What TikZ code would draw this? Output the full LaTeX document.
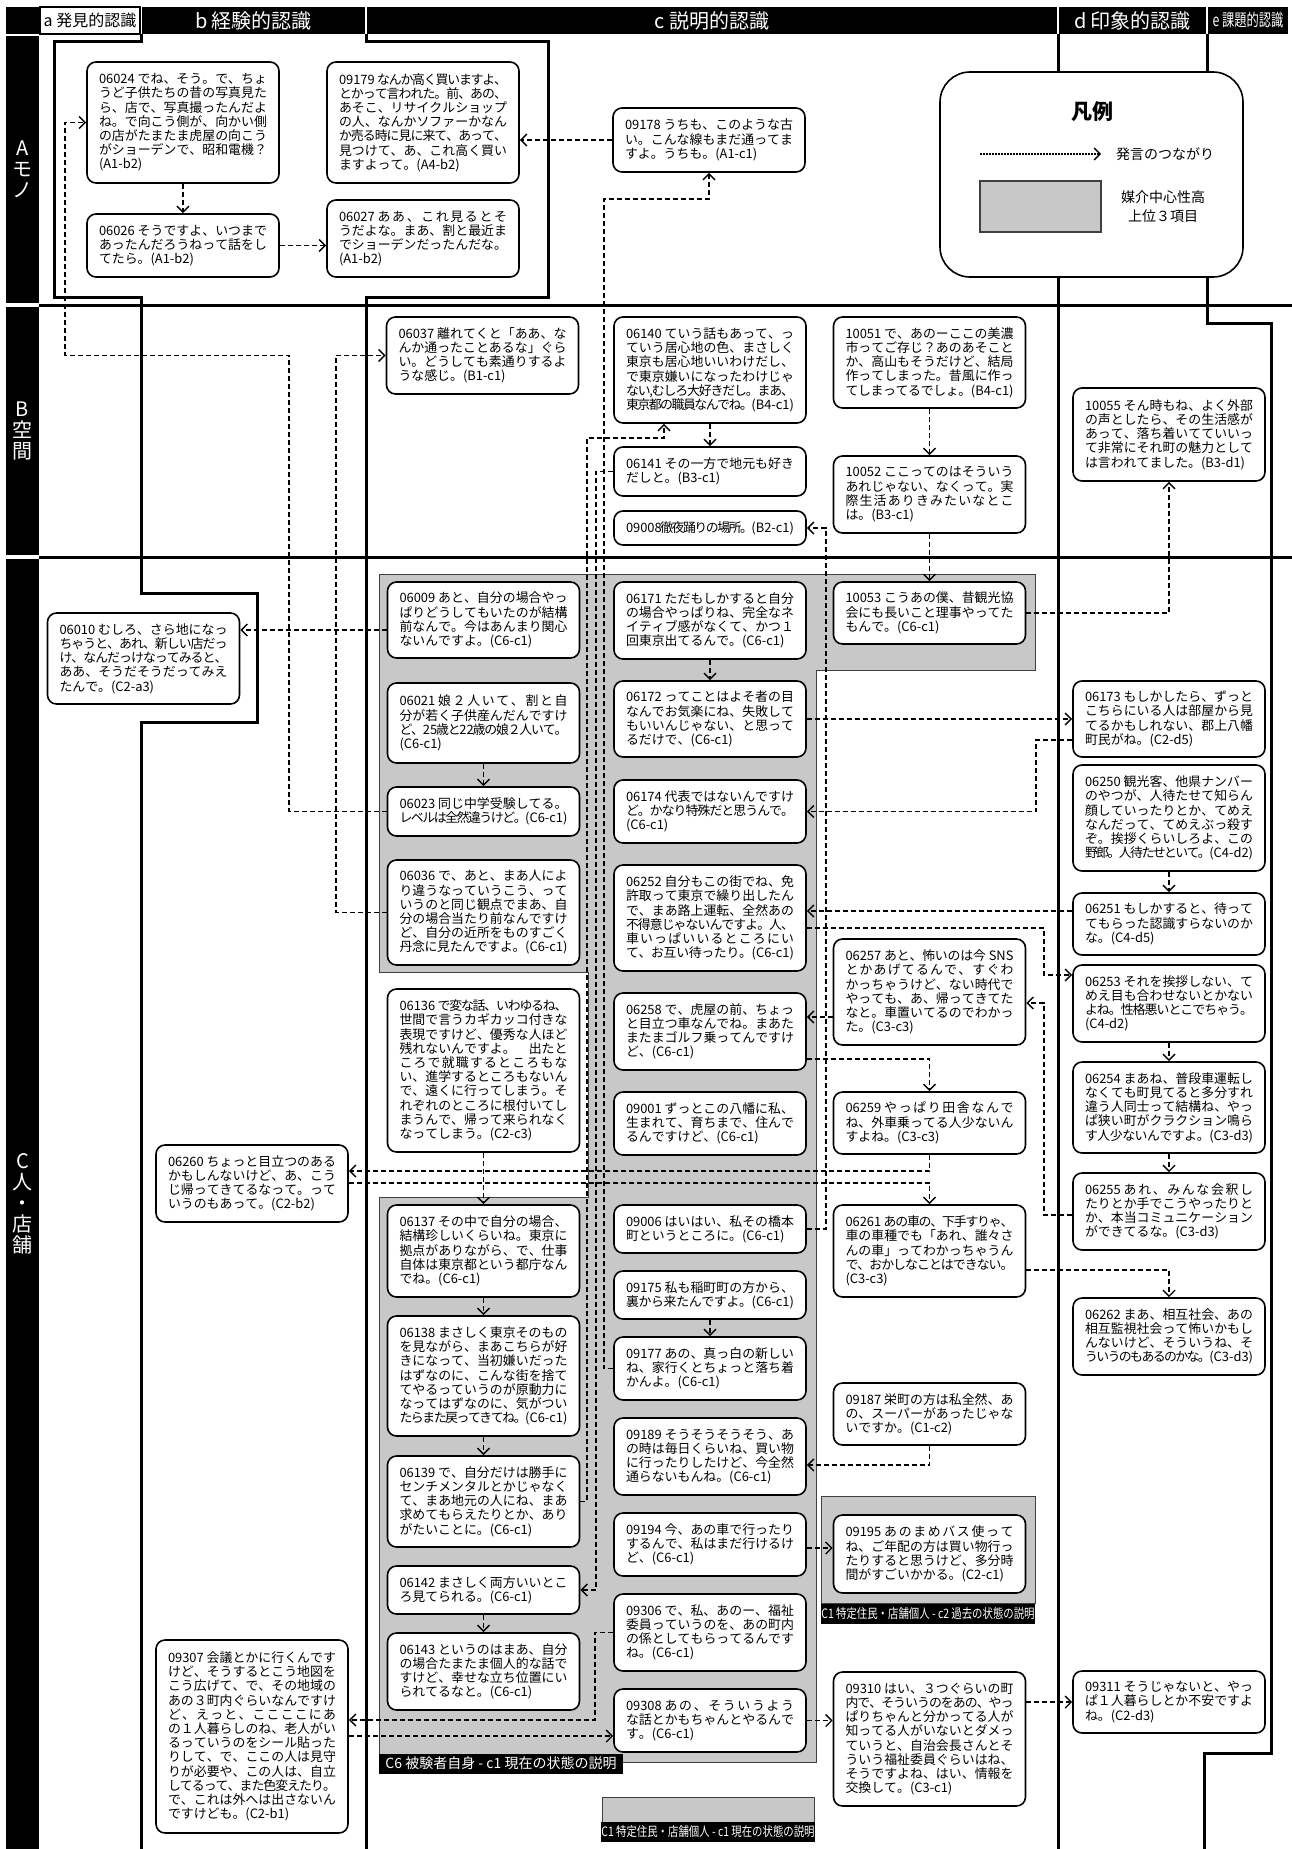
\documentclass[tikz,border=0pt]{standalone}
\usepackage{fontspec}
\setmainfont{Noto Sans CJK JP}
\usetikzlibrary{arrows.meta}
\definecolor{regiongray}{RGB}{200,200,200}
% stretchable glue between CJK characters, used for justified lines
\ifdefined\newXeTeXintercharclass \newXeTeXintercharclass\cjkclass \else \chardef\cjkclass=7 \fi
\newcount\cjkcnt
\newcommand\setcjkrange[2]{\cjkcnt=#1\relax
  \loop\XeTeXcharclass\cjkcnt=\cjkclass
  \ifnum\cjkcnt<#2\relax\advance\cjkcnt by 1\repeat}
\setcjkrange{"3000}{"30FF}
\setcjkrange{"4E00}{"9FFF}
\setcjkrange{"FF00}{"FFEF}
\newcommand\cjkglue{\hskip0pt plus 1fil minus 2pt}
\XeTeXinterchartoks\cjkclass\cjkclass={\cjkglue}
\XeTeXinterchartoks 0 \cjkclass={\cjkglue}
\XeTeXinterchartoks\cjkclass 0 ={\cjkglue}
\newlength\lw \setlength\lw{168pt}
\newcommand\jl[1]{\hbox to\lw{\XeTeXinterchartokenstate=1 #1}}
\newcommand\el[1]{\hbox to\lw{\XeTeXinterchartokenstate=1 #1\hskip0pt plus 1fill}}
\newcommand\narrow[1]{\scalebox{0.8}[1]{#1}}
\tikzset{
  utt/.style={draw, line width=1.6pt, rounded corners=9pt, fill=white, inner xsep=12pt, inner ysep=6pt,
    minimum width=192pt, align=left, font=\fontsize{12.9}{14.2}\selectfont},
  conn/.style={line width=1.4pt, dash pattern=on 5pt off 3pt, -{Straight Barb[length=6pt,width=12pt]}},
  bound/.style={line width=3pt},
  hdr/.style={fill=black, text=white, inner sep=0pt, minimum height=27pt, font=\fontsize{20}{20}\selectfont},
  rowlab/.style={fill=black, text=white, inner sep=0pt, minimum width=33pt, align=center, font=\fontsize{20}{21}\selectfont},
  region/.style={fill=regiongray, draw=black!75, line width=1pt},
  glabel/.style={fill=black, text=white, inner sep=0pt, minimum height=20pt},
  legtxt/.style={inner sep=0pt, font=\fontsize{14}{19}\selectfont},
}
\begin{document}
\begin{tikzpicture}[x=1pt,y=-1pt]
\useasboundingbox (0,0) rectangle (1292,1849);
% header
\node[hdr, minimum width=33] (h0) at (22.5,20.5) {};
\node[hdr, fill=white, text=black, draw=black, line width=1.5pt, minimum width=100, font=\fontsize{16}{16}\selectfont] (ha) at (90,20.5) {a 発見的認識};
\node[hdr, minimum width=223] (hb) at (253.5,20.5) {b 経験的認識};
\node[hdr, minimum width=690] (hc) at (712,20.5) {c 説明的認識};
\node[hdr, minimum width=147] (hd) at (1132.5,20.5) {d 印象的認識};
\node[hdr, minimum width=80, font=\fontsize{17}{17}\selectfont] (he) at (1248,20.5) {\scalebox{0.72}[1]{e 課題的認識}};
%
\node[rowlab, minimum height=267] (ra) at (22.5,169.5) {A\\モ\\ノ};
\node[rowlab, minimum height=248] (rb) at (22.5,431) {B\\空\\間};
\node[rowlab, minimum height=1290] (rc) at (22.5,1204) {C\\人\\・\\店\\舗};
% category boundaries
\draw[bound] (39,305) -- (1292,305);
\draw[bound] (39,557) -- (1292,557);
\draw[bound] (141,34) -- (141,42) -- (54,42) -- (54,297) -- (141,297) -- (141,593) -- (257,593) -- (257,722) -- (141,722) -- (141,1849);
\draw[bound] (366,34) -- (366,42) -- (548,42) -- (548,297) -- (366,297) -- (366,1849);
\draw[bound] (1058,34) -- (1058,1849);
\draw[bound] (1207,34) -- (1207,323) -- (1271,323) -- (1271,1753) -- (1204,1753) -- (1204,1849);
% legend
\node[draw, fill=white, line width=1.6pt, rounded corners=30pt, minimum width=303, minimum height=205] (leg) at (1091.5,174.5) {};
\node[inner sep=0pt, font=\bfseries\fontsize{21}{21}\selectfont] (legt) at (1092,112) {凡例};
\coordinate (la) at (980,154);
\coordinate (lb) at (1101,154);
\draw[line width=1.4pt, dash pattern=on 1.5pt off 1.5pt, -{Straight Barb[length=6pt,width=12pt]}] (la) -- (lb);
\node[legtxt, anchor=west] (legc) at (1116,154) {発言のつながり};
\node[region, line width=1.6pt, minimum width=121, minimum height=51] (legg) at (1040.5,206.5) {};
\node[legtxt, align=center] (legm) at (1163,207) {媒介中心性高\\上位３項目};
% groups of high betweenness
\draw[region] (379,574) -- (1035,574) -- (1035,670) -- (816,670) -- (816,1762) -- (379,1762) -- (379,1197) -- (588,1197) -- (588,972) -- (379,972) -- cycle;
\draw[region] (821,1496) rectangle (1035,1603);
\draw[region] (602,1797) rectangle (814,1822);
\node[glabel, minimum width=244, font=\fontsize{14}{14}\selectfont] (g1) at (501,1763.5) {C6 被験者自身 - c1 現在の状態の説明};
\node[glabel, minimum width=214, font=\fontsize{13}{13}\selectfont] (g2) at (928,1613.5) {\narrow{C1 特定住民・店舗個人 - c2 過去の状態の説明}};
\node[glabel, minimum width=212, font=\fontsize{13}{13}\selectfont] (g3) at (708,1832) {\narrow{C1 特定住民・店舗個人 - c1 現在の状態の説明}};
% row A
\node[utt, minimum height=121] (u06024) at (183,122.5) {\jl{06024 でね、そう。で、ちょ}\\\jl{うど子供たちの昔の写真見た}\\\jl{ら、店で、写真撮ったんだよ}\\\jl{ね。で向こう側が、向かい側}\\\jl{の店がたまたま虎屋の向こう}\\\jl{がショーデンで、昭和電機？}\\\el{(A1-b2)}};
\node[utt, minimum height=63] (u06026) at (183,245.5) {\jl{06026 そうですよ、いつまで}\\\jl{あったんだろうねって話をし}\\\el{てたら。(A1-b2)}};
\node[utt, minimum height=121] (u09179) at (423,122.5) {\jl{09179 なんか高く買いますよ、}\\\jl{とかって言われた。前、あの、}\\\jl{あそこ、リサイクルショップ}\\\jl{の人、なんかソファーかなん}\\\jl{か売る時に見に来て、あって、}\\\jl{見つけて、あ、これ高く買い}\\\el{ますよって。(A4-b2)}};
\node[utt, minimum height=77] (u06027) at (423,238.5) {\jl{06027 ああ、これ見るとそ}\\\jl{うだよな。まあ、割と最近ま}\\\jl{でショーデンだったんだな。}\\\el{(A1-b2)}};
\node[utt, minimum height=64] (u09178) at (709,140) {\jl{09178 うちも、このような古}\\\jl{い。こんな線もまだ通ってま}\\\el{すよ。うちも。(A1-c1)}};
% row B
\node[utt, minimum height=77] (u06037) at (482.5,355.5) {\jl{06037 離れてくと「ああ、な}\\\jl{んか通ったことあるな」ぐら}\\\jl{い。どうしても素通りするよ}\\\el{うな感じ。(B1-c1)}};
\node[utt, minimum height=106] (u06140) at (710,370) {\jl{06140 ていう話もあって、っ}\\\jl{ていう居心地の色、まさしく}\\\jl{東京も居心地いいわけだし、}\\\jl{で東京嫌いになったわけじゃ}\\\jl{ない,むしろ大好きだし。まあ、}\\\el{東京都の職員なんでね。(B4-c1)}};
\node[utt, minimum height=49] (u06141) at (710,471.5) {\jl{06141 その一方で地元も好き}\\\el{だしと。(B3-c1)}};
\node[utt, minimum height=34] (u09008) at (710,528) {\el{09008徹夜踊りの場所。(B2-c1)}};
\node[utt, minimum height=91] (u10051) at (929.5,362.5) {\jl{10051 で、あのーここの美濃}\\\jl{市ってご存じ？あのあそこと}\\\jl{か、高山もそうだけど、結局}\\\jl{作ってしまった。昔風に作っ}\\\el{てしまってるでしょ。(B4-c1)}};
\node[utt, minimum height=77] (u10052) at (929.5,494.5) {\jl{10052 ここってのはそういう}\\\jl{あれじゃない、なくって。実}\\\jl{際生活ありきみたいなとこ}\\\el{は。(B3-c1)}};
\node[utt, minimum height=93] (u10055) at (1169,434.5) {\jl{10055 そん時もね、よく外部}\\\jl{の声としたら、その生活感が}\\\jl{あって、落ち着いてていいっ}\\\jl{て非常にそれ町の魅力として}\\\el{は言われてました。(B3-d1)}};
% row C, columns a and b
\node[utt, minimum height=91] (u06010) at (143.5,658.5) {\jl{06010 むしろ、さら地になっ}\\\jl{ちゃうと、あれ、新しい店だっ}\\\jl{け、なんだっけなってみると、}\\\jl{ああ、そうだそうだってみえ}\\\el{たんで。(C2-a3)}};
\node[utt, minimum height=77] (u06260) at (252,1183.5) {\jl{06260 ちょっと目立つのある}\\\jl{かもしんないけど、あ、こう}\\\jl{じ帰ってきてるなって。って}\\\el{いうのもあって。(C2-b2)}};
\node[utt, minimum height=193] (u09307) at (252,1736.5) {\jl{09307 会議とかに行くんです}\\\jl{けど、そうするとこう地図を}\\\jl{こう広げて、で、その地域の}\\\jl{あの３町内ぐらいなんですけ}\\\jl{ど、えっと、ここここにあ}\\\jl{の１人暮らしのね、老人がい}\\\jl{るっていうのをシール貼った}\\\jl{りして、で、ここの人は見守}\\\jl{りが必要や、この人は、自立}\\\jl{してるって、また色変えたり。}\\\jl{で、これは外へは出さないん}\\\el{ですけども。(C2-b1)}};
% row C, column c (1)
\node[utt, minimum height=76] (u06009) at (483.5,620) {\jl{06009 あと、自分の場合やっ}\\\jl{ぱりどうしてもいたのが結構}\\\jl{前なんで。今はあんまり関心}\\\el{ないんですよ。(C6-c1)}};
\node[utt, minimum height=80] (u06021) at (483.5,723) {\jl{06021 娘２人いて、割と自}\\\jl{分が若く子供産んだんですけ}\\\jl{ど、25歳と22歳の娘２人いて。}\\\el{(C6-c1)}};
\node[utt, minimum height=49] (u06023) at (483.5,811.5) {\jl{06023 同じ中学受験してる。}\\\el{レベルは全然違うけど。(C6-c1)}};
\node[utt, minimum height=105] (u06036) at (483.5,912.5) {\jl{06036 で、あと、まあ人によ}\\\jl{り違うなっていうこう、って}\\\jl{いうのと同じ観点でまあ、自}\\\jl{分の場合当たり前なんですけ}\\\jl{ど、自分の近所をものすごく}\\\el{丹念に見たんですよ。(C6-c1)}};
\node[utt, minimum height=163] (u06136) at (483.5,1070.5) {\jl{06136 で変な話、いわゆるね、}\\\jl{世間で言うカギカッコ付きな}\\\jl{表現ですけど、優秀な人ほど}\\\jl{残れないんですよ。　出たと}\\\jl{ころで就職するところもな}\\\jl{い、進学するところもないん}\\\jl{で、遠くに行ってしまう。そ}\\\jl{れぞれのところに根付いてし}\\\jl{まうんで、帰って来られなく}\\\el{なってしまう。(C2-c3)}};
\node[utt, minimum height=92] (u06137) at (483.5,1251) {\jl{06137 その中で自分の場合、}\\\jl{結構珍しいくらいね。東京に}\\\jl{拠点がありながら、で、仕事}\\\jl{自体は東京都という都庁なん}\\\el{でね。(C6-c1)}};
\node[utt, minimum height=120] (u06138) at (483.5,1376) {\jl{06138 まさしく東京そのもの}\\\jl{を見ながら、まあこちらが好}\\\jl{きになって、当初嫌いだった}\\\jl{はずなのに、こんな街を捨て}\\\jl{てやるっていうのが原動力に}\\\jl{なってはずなのに、気がつい}\\\el{たらまた戻ってきてね。(C6-c1)}};
\node[utt, minimum height=91] (u06139) at (483.5,1501.5) {\jl{06139 で、自分だけは勝手に}\\\jl{センチメンタルとかじゃなく}\\\jl{て、まあ地元の人にね、まあ}\\\jl{求めてもらえたりとか、あり}\\\el{がたいことに。(C6-c1)}};
\node[utt, minimum height=48] (u06142) at (483.5,1590) {\jl{06142 まさしく両方いいとこ}\\\el{ろ見てられる。(C6-c1)}};
\node[utt, minimum height=77] (u06143) at (483.5,1671.5) {\jl{06143 というのはまあ、自分}\\\jl{の場合たまたま個人的な話で}\\\jl{すけど、幸せな立ち位置にい}\\\el{られてるなと。(C6-c1)}};
% row C, column c (2)
\node[utt, minimum height=77] (u06171) at (710,620.5) {\jl{06171 ただもしかすると自分}\\\jl{の場合やっぱりね、完全なネ}\\\jl{イティブ感がなくて、かつ１}\\\el{回東京出てるんで。(C6-c1)}};
\node[utt, minimum height=76] (u06172) at (710,719) {\jl{06172 ってことはよそ者の目}\\\jl{なんでお気楽にね、失敗して}\\\jl{もいいんじゃない、と思って}\\\el{るだけで、(C6-c1)}};
\node[utt, minimum height=63] (u06174) at (710,811.5) {\jl{06174 代表ではないんですけ}\\\jl{ど。かなり特殊だと思うんで。}\\\el{(C6-c1)}};
\node[utt, minimum height=106] (u06252) at (710,918) {\jl{06252 自分もこの街でね、免}\\\jl{許取って東京で繰り出したん}\\\jl{で、まあ路上運転、全然あの}\\\jl{不得意じゃないんですよ。人、}\\\jl{車いっぱいいるところにい}\\\el{て、お互い待ったり。(C6-c1)}};
\node[utt, minimum height=77] (u06258) at (710,1031.5) {\jl{06258 で、虎屋の前、ちょっ}\\\jl{と目立つ車なんでね。まあた}\\\jl{またまゴルフ乗ってんですけ}\\\el{ど、(C6-c1)}};
\node[utt, minimum height=63] (u09001) at (710,1123.5) {\jl{09001 ずっとこの八幡に私、}\\\jl{生まれて、育ちまで、住んで}\\\el{るんですけど、(C6-c1)}};
\node[utt, minimum height=48] (u09006) at (710,1229) {\jl{09006 はいはい、私その橋本}\\\el{町というところに。(C6-c1)}};
\node[utt, minimum height=48] (u09175) at (710,1295) {\jl{09175 私も稲町町の方から、}\\\el{裏から来たんですよ。(C6-c1)}};
\node[utt, minimum height=63] (u09177) at (710,1368.5) {\jl{09177 あの、真っ白の新しい}\\\jl{ね、家行くとちょっと落ち着}\\\el{かんよ。(C6-c1)}};
\node[utt, minimum height=77] (u09189) at (710,1456.5) {\jl{09189 そうそうそうそう、あ}\\\jl{の時は毎日くらいね、買い物}\\\jl{に行ったりしたけど、今全然}\\\el{通らないもんね。(C6-c1)}};
\node[utt, minimum height=63] (u09194) at (710,1544.5) {\jl{09194 今、あの車で行ったり}\\\jl{するんで、私はまだ行けるけ}\\\el{ど、(C6-c1)}};
\node[utt, minimum height=77] (u09306) at (710,1632.5) {\jl{09306 で、私、あのー、福祉}\\\jl{委員っていうのを、あの町内}\\\jl{の係としてもらってるんです}\\\el{ね。(C6-c1)}};
\node[utt, minimum height=63] (u09308) at (710,1720.5) {\jl{09308 あの、そういうよう}\\\jl{な話とかもちゃんとやるんで}\\\el{す。(C6-c1)}};
% row C, column c (3)
\node[utt, minimum height=62] (u10053) at (929.5,613) {\jl{10053 こうあの僕、昔観光協}\\\jl{会にも長いこと理事やってた}\\\el{もんで。(C6-c1)}};
\node[utt, minimum height=106] (u06257) at (929.5,992) {\jl{06257 あと、怖いのは今 SNS}\\\jl{とかあげてるんで、すぐわ}\\\jl{かっちゃうけど、ない時代で}\\\jl{やっても、あ、帰ってきてた}\\\jl{なと。車置いてるのでわかっ}\\\el{た。(C3-c3)}};
\node[utt, minimum height=62] (u06259) at (929.5,1123) {\jl{06259 やっぱり田舎なんで}\\\jl{ね、外車乗ってる人少ないん}\\\el{すよね。(C3-c3)}};
\node[utt, minimum height=92] (u06261) at (929.5,1251) {\jl{06261 あの車の、下手すりゃ、}\\\jl{車の車種でも「あれ、誰々さ}\\\jl{んの車」ってわかっちゃうん}\\\jl{で、おかしなことはできない。}\\\el{(C3-c3)}};
\node[utt, minimum height=62] (u09187) at (929.5,1414) {\jl{09187 栄町の方は私全然、あ}\\\jl{の、スーパーがあったじゃな}\\\el{いですか。(C1-c2)}};
\node[utt, minimum height=78] (u09195) at (929.5,1554) {\jl{09195 あのまめバス使って}\\\jl{ね、ご年配の方は買い物行っ}\\\jl{たりすると思うけど、多分時}\\\el{間がすごいかかる。(C2-c1)}};
\node[utt, minimum height=134] (u09310) at (929.5,1739) {\jl{09310 はい、３つぐらいの町}\\\jl{内で、そういうのをあの、やっ}\\\jl{ぱりちゃんと分かってる人が}\\\jl{知ってる人がいないとダメっ}\\\jl{ていうと、自治会長さんとそ}\\\jl{ういう福祉委員ぐらいはね、}\\\jl{そうですよね、はい、情報を}\\\el{交換して。(C3-c1)}};
% row C, column d
\node[utt, minimum height=76] (u06173) at (1169,719) {\jl{06173 もしかしたら、ずっと}\\\jl{こちらにいる人は部屋から見}\\\jl{てるかもしれない、郡上八幡}\\\el{町民がね。(C2-d5)}};
\node[utt, minimum height=106] (u06250) at (1169,818) {\jl{06250 観光客、他県ナンバー}\\\jl{のやつが、人待たせて知らん}\\\jl{顔していったりとか、てめえ}\\\jl{なんだって、てめえぶっ殺す}\\\jl{ぞ。挨拶くらいしろよ、この}\\\el{野郎。人待たせといて。(C4-d2)}};
\node[utt, minimum height=62] (u06251) at (1169,924) {\jl{06251 もしかすると、待って}\\\jl{てもらった認識すらないのか}\\\el{な。(C4-d5)}};
\node[utt, minimum height=77] (u06253) at (1169,1003.5) {\jl{06253 それを挨拶しない、て}\\\jl{めえ目も合わせないとかない}\\\jl{よね。性格悪いとこでちゃう。}\\\el{(C4-d2)}};
\node[utt, minimum height=91] (u06254) at (1169,1107.5) {\jl{06254 まあね、普段車運転し}\\\jl{なくても町見てると多分すれ}\\\jl{違う人同士って結構ね、やっ}\\\jl{ぱ狭い町がクラクション鳴ら}\\\el{す人少ないんですよ。(C3-d3)}};
\node[utt, minimum height=77] (u06255) at (1169,1211.5) {\jl{06255 あれ、みんな会釈し}\\\jl{たりとか手でこうやったりと}\\\jl{か、本当コミュニケーション}\\\el{ができてるな。(C3-d3)}};
\node[utt, minimum height=77] (u06262) at (1169,1336.5) {\jl{06262 まあ、相互社会、あの}\\\jl{相互監視社会って怖いかもし}\\\jl{んないけど、そういうね、そ}\\\el{ういうのもあるのかな。(C3-d3)}};
\node[utt, minimum height=62] (u09311) at (1169,1702) {\jl{09311 そうじゃないと、やっ}\\\jl{ぱ１人暮らしとか不安ですよ}\\\el{ね。(C2-d3)}};
% links between utterances
\draw[conn] (u06024) -- (u06026);
\draw[conn] (u06026.east) -- (u06026.east -| u06027.west);
\draw[conn] (u09178.west) -- (u09178.west -| u09179.east);
\draw[conn] (u06023.west) -| (289,355.5) -| (65,122.5) -- (u06024.west);
\draw[conn] (u06036.west) -| (336,355.5) -- (u06037.west);
%
\draw[conn] (u06140) -- (u06141);
\draw[conn] (u06139.east) -| (587,438) -| ([xshift=-46pt]u06140.south);
\draw[conn] (u06141.west) -| (596,1590) -- (u06142.east);
\draw[conn] (u09177.west) -| (604,199) -| (u09178.south);
\draw[conn] (u10051) -- (u10052);
\draw[conn] (u10052) -- (u10053);
\draw[conn] (u10053.east) -| (u10055.south);
\draw[conn] (u09006.east) -| (826,528) -- (u09008.east);
%
\draw[conn] (u06009.west |- 0,630) -- (u06010.east |- 0,630);
\draw[conn] (u06021) -- (u06023);
\draw[conn] (u06136) -- (u06137);
\draw[conn] (u06137) -- (u06138);
\draw[conn] (u06138) -- (u06139);
\draw[conn] (u06142) -- (u06143);
%
\draw[conn] (u06171) -- (u06172);
\draw[conn] (u06172) -- (u06173);
\draw[conn] (u06173.west |- 0,740) -| (1036,811.5) -- (u06174.east);
\draw[conn] (u06250) -- (u06251);
\draw[conn] (u06251.west |- 0,911) -- (u06252.east |- 0,911);
\draw[conn] (u06252.east |- 0,928) -| (1044,975) -- (u06253.west |- 0,975);
\draw[conn] (u06253) -- (u06254);
\draw[conn] (u06254) -- (u06255);
\draw[conn] (u06255.west |- 0,1215) -| (1044,1003) -- (u06257.east |- 0,1003);
\draw[conn] (u06257.west |- 0,1017) -- (u06258.east |- 0,1017);
\draw[conn] (u06258.east |- 0,1059) -| (u06259.north);
\draw[conn] (u06259.south) |- (u06260.east |- 0,1171);
\draw[conn] (u06260.east |- 0,1183) -| (u06261.north);
\draw[conn] (u06261.east |- 0,1270) -| (u06262.north);
%
\draw[conn] (u09175) -- (u09177);
\draw[conn] (u09187.south) |- (u09189.east |- 0,1465);
\draw[conn] (u09194.east |- 0,1548) -- (u09195.west |- 0,1548);
\draw[conn] (u09306.west) -| (595,1720) -- (u09307.east |- 0,1720);
\draw[conn] (u09307.east |- 0,1736) -- (u09308.west |- 0,1736);
\draw[conn] (u09308.east) -- (u09310.west |- u09308.east);
\draw[conn] (u09310.east |- 0,1702) -- (u09311.west |- 0,1702);
\end{tikzpicture}
\end{document}
